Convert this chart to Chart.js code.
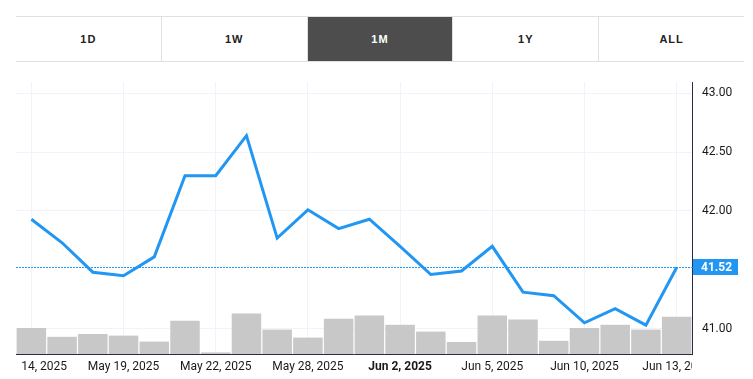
<!DOCTYPE html>
<html>
<head>
<meta charset="utf-8">
<script src="https://cdn.jsdelivr.net/npm/chart.js@4.4.1/dist/chart.umd.min.js"></script>
<style>
    html, body { margin: 0; padding: 0; background: #fff; }
    body { width: 753px; height: 379px; position: relative; overflow: hidden; }
    #gombok {
        position: absolute; left: 16px; top: 16px; width: 728px; height: 46px;
        display: flex; border-top: 1px solid #e0e0e0; border-bottom: 1px solid #e0e0e0;
        box-sizing: border-box;
    }
    .gomb {
        flex: 1; display: flex; align-items: center; justify-content: center;
        font: bold 11px "Liberation Sans", Arial, sans-serif; letter-spacing: 1px;
        color: #222; border-left: 1px solid #e0e0e0;
    }
    .gomb:first-child { border-left: none; }
    .gomb.aktiv { background: #4d4d4d; color: #fff; }
    #rajz { position: absolute; left: 0; top: 0; }
</style>
</head>
<body>
<div id="gombok">
    <div class="gomb">1D</div>
    <div class="gomb">1W</div>
    <div class="gomb aktiv">1M</div>
    <div class="gomb">1Y</div>
    <div class="gomb">ALL</div>
</div>
<canvas id="rajz" width="753" height="379"></canvas>
<script>
    const napok = ['May 14, 2025', 'May 15, 2025', 'May 16, 2025', 'May 19, 2025', 'May 20, 2025', 'May 21, 2025',
        'May 22, 2025', 'May 23, 2025', 'May 27, 2025', 'May 28, 2025', 'May 29, 2025', 'May 30, 2025',
        'Jun 2, 2025', 'Jun 3, 2025', 'Jun 4, 2025', 'Jun 5, 2025', 'Jun 6, 2025', 'Jun 9, 2025',
        'Jun 10, 2025', 'Jun 11, 2025', 'Jun 12, 2025', 'Jun 13, 2025'];
    const arfolyam = [41.93, 41.73, 41.48, 41.45, 41.61, 42.30, 42.30, 42.64, 41.77, 42.01, 41.85, 41.93,
        41.70, 41.46, 41.49, 41.70, 41.31, 41.28, 41.05, 41.17, 41.03, 41.52];
    const forgalom = [1.30, 0.86, 1.00, 0.92, 0.62, 1.66, 0.08, 2.02, 1.22, 0.82, 1.76, 1.92,
        1.46, 1.12, 0.60, 1.92, 1.72, 0.66, 1.30, 1.46, 1.22, 1.86];
    const cimkeIndexek = [0, 3, 6, 9, 12, 15, 18, 21];
    const arTickek = [41.00, 42.00, 42.50, 43.00];

    const kek = '#2196F3';
    const tengelySzin = '#2b2b43';
    const racsSzin = '#f0f3fa';
    const betu = 'Roboto, "Liberation Sans", sans-serif';

    // a datum cimkek csak a rajzterulet szelessegeben latszanak
    const cimkeVagas = {
        id: 'cimkeVagas',
        afterLayout(chart) {
            const xs = chart.scales.x;
            if (xs._vagott) return;
            xs._vagott = true;
            const eredeti = xs.drawLabels.bind(xs);
            xs.drawLabels = function(area) {
                const ctx = chart.ctx;
                const ca = chart.chartArea;
                ctx.save();
                ctx.beginPath();
                ctx.rect(ca.left + 4, ca.bottom, ca.right - ca.left - 4, chart.height - ca.bottom);
                ctx.clip();
                eredeti(area);
                ctx.restore();
            };
        }
    };

    // utolso ar pontozott vonala + cimke a jobb tengelyen
    const utolsoArPlugin = {
        id: 'utolsoAr',
        afterDatasetsDraw(chart) {
            const { ctx, chartArea, scales } = chart;
            const ertek = arfolyam[arfolyam.length - 1];
            const y = Math.round(scales.y.getPixelForValue(ertek));
            ctx.save();
            ctx.fillStyle = kek;
            for (let x = Math.round(chartArea.left); x < chartArea.right; x += 3) {
                ctx.fillRect(x, y, 2, 1);
            }
            ctx.fillRect(chartArea.right + 1, y - 8, 45, 16);
            ctx.fillStyle = '#fff';
            ctx.font = 'bold 12px ' + betu;
            ctx.textBaseline = 'middle';
            ctx.fillText(ertek.toFixed(2), chartArea.right + 9, y + 0.5);
            ctx.restore();
        }
    };

    new Chart(document.getElementById('rajz').getContext('2d'), {
        type: 'bar',
        data: {
            labels: napok,
            datasets: [{
                type: 'line',
                data: arfolyam,
                yAxisID: 'y',
                borderColor: kek,
                borderWidth: 3,
                pointRadius: 0,
                tension: 0,
                order: 1
            }, {
                type: 'bar',
                data: forgalom,
                yAxisID: 'yForg',
                backgroundColor: '#c8c8c8',
                categoryPercentage: 1,
                barPercentage: 0.96,
                order: 2
            }]
        },
        options: {
            responsive: false,
            animation: false,
            layout: { padding: { top: 82, left: 16, right: 0, bottom: 0 } },
            plugins: { legend: { display: false }, tooltip: { enabled: false } },
            scales: {
                x: {
                    offset: true,
                    grid: {
                        offset: false,
                        color: c => cimkeIndexek.includes(c.index) ? racsSzin : 'rgba(0,0,0,0)',
                        drawTicks: false
                    },
                    border: { display: true, color: tengelySzin, width: 1 },
                    ticks: {
                        autoSkip: false,
                        maxRotation: 0,
                        padding: 6,
                        color: '#191919',
                        font: c => ({ family: betu, size: 12, weight: c.index === 12 ? 'bold' : 'normal' }),
                        callback: function(v, i) { return cimkeIndexek.includes(i) ? napok[i] : ''; }
                    },
                    afterFit: s => { s.height = 25; s.paddingLeft = 0; s.paddingRight = 0; }
                },
                y: {
                    position: 'right',
                    min: 40.785,
                    max: 43.096,
                    afterBuildTicks: s => { s.ticks = arTickek.map(v => ({ value: v })); },
                    grid: { color: racsSzin, drawTicks: false },
                    border: { display: true, color: tengelySzin, width: 1 },
                    ticks: {
                        padding: 10,
                        color: '#191919',
                        font: { family: betu, size: 12 },
                        callback: v => v.toFixed(2)
                    },
                    afterFit: s => { s.width = 61; s.paddingTop = 0; s.paddingBottom = 0; }
                },
                yForg: {
                    display: false,
                    min: 0,
                    max: 13.6
                }
            }
        },
        plugins: [cimkeVagas, utolsoArPlugin]
    });
</script>
</body>
</html>
